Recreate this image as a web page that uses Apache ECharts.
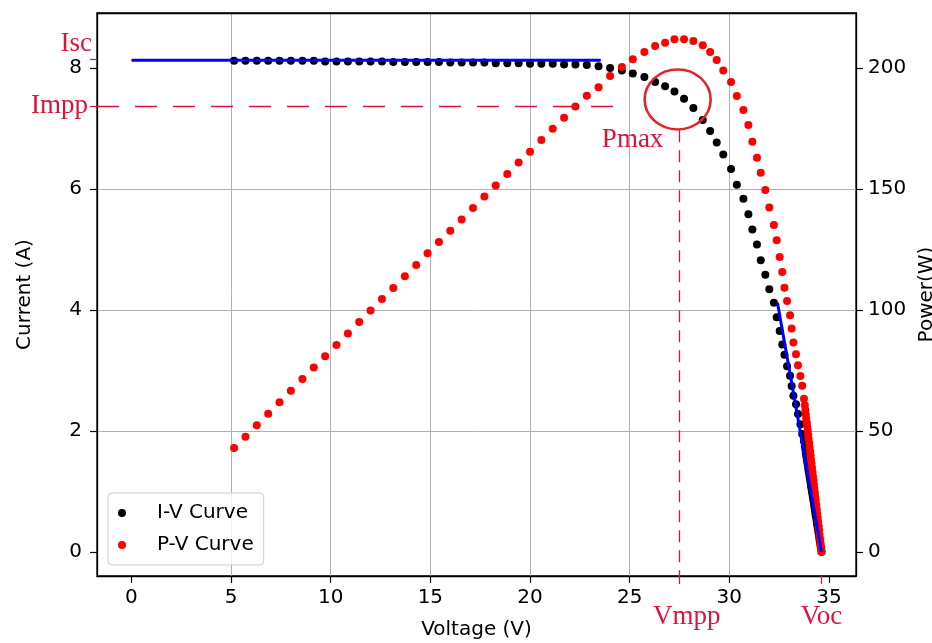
<!DOCTYPE html>
<html>
<head>
<meta charset="utf-8">
<script src="https://cdn.jsdelivr.net/npm/echarts@6/dist/echarts.min.js"></script>
<style>
  html, body { margin: 0; padding: 0; background: #fff; }
  #chart { width: 932px; height: 643px; }
</style>
</head>
<body>
<div id="chart"></div>
<script>
// measured I-V / P-V samples (shared voltage axis)
var volt = [
  5.15, 5.72, 6.29, 6.86, 7.43, 8.00, 8.58, 9.15, 9.72, 10.29,
  10.86, 11.43, 12.00, 12.57, 13.14, 13.72, 14.29, 14.86, 15.43, 16.00,
  16.57, 17.14, 17.71, 18.28, 18.86, 19.43, 20.00, 20.57, 21.14, 21.71,
  22.28, 22.85, 23.44, 24.02, 24.61, 25.16, 25.74, 26.28, 26.78, 27.25,
  27.73, 28.20, 28.67, 29.04, 29.37, 29.70, 30.09, 30.38, 30.71, 30.96,
  31.16, 31.39, 31.58, 31.81, 32.01, 32.24, 32.38, 32.53, 32.66, 32.77,
  32.90, 33.05, 33.13, 33.22, 33.35, 33.45, 33.57, 33.66,
  33.75, 33.79, 33.82, 33.84, 33.86, 33.89, 33.91, 33.94, 33.96, 33.98,
  34.01, 34.03, 34.06, 34.08, 34.10, 34.13, 34.15, 34.18, 34.20, 34.23,
  34.25, 34.27, 34.30, 34.32, 34.34, 34.37, 34.39, 34.41, 34.44, 34.46,
  34.49, 34.51, 34.53, 34.56, 34.58, 34.61, 34.63
];
var current = [
  8.12, 8.12, 8.12, 8.12, 8.12, 8.12, 8.12, 8.12, 8.11, 8.11,
  8.11, 8.11, 8.11, 8.11, 8.10, 8.10, 8.10, 8.10, 8.10, 8.09,
  8.09, 8.09, 8.09, 8.08, 8.08, 8.08, 8.07, 8.07, 8.07, 8.06,
  8.06, 8.05, 8.03, 8.00, 7.96, 7.91, 7.85, 7.77, 7.70, 7.61,
  7.49, 7.34, 7.14, 6.96, 6.77, 6.57, 6.33, 6.07, 5.84, 5.58,
  5.33, 5.08, 4.82, 4.58, 4.34, 4.12, 3.88, 3.65, 3.43, 3.26,
  3.07, 2.91, 2.74, 2.58, 2.44, 2.28, 2.11, 1.95,
  1.83, 1.75, 1.69, 1.64, 1.59, 1.54, 1.49, 1.44, 1.39, 1.34,
  1.29, 1.24, 1.19, 1.14, 1.09, 1.04, 0.99, 0.94, 0.89, 0.84,
  0.79, 0.74, 0.69, 0.64, 0.60, 0.55, 0.50, 0.45, 0.40, 0.35,
  0.30, 0.25, 0.20, 0.15, 0.10, 0.05, 0.00
];
var power = [
  42.9, 47.6, 52.3, 57.1, 61.8, 66.6, 71.4, 76.2, 80.8, 85.5,
  90.3, 95.0, 99.8, 104.5, 109.1, 113.9, 118.6, 123.4, 128.1, 132.7,
  137.4, 142.1, 146.9, 151.4, 156.2, 160.9, 165.4, 170.2, 174.9, 179.4,
  184.1, 188.5, 192.1, 196.7, 200.4, 203.6, 206.6, 209.1, 210.5, 211.9,
  211.9, 211.2, 209.4, 206.6, 203.3, 199.0, 194.2, 188.4, 182.6, 176.4,
  169.5, 162.9, 156.7, 149.6, 142.3, 135.1, 128.8, 121.9, 115.7, 109.2,
  103.7, 97.8, 92.3, 86.5, 81.7, 77.1, 72.7, 68.6,
  63.3, 60.6, 58.6, 56.9, 55.2, 53.5, 51.8, 50.1, 48.4, 46.7,
  45.0, 43.3, 41.5, 39.8, 38.1, 36.4, 34.7, 32.9, 31.2, 29.5,
  27.7, 26.0, 24.3, 22.5, 21.1, 19.4, 17.6, 15.9, 14.1, 12.4,
  10.6, 8.8, 7.1, 5.3, 3.5, 1.8, 0.0
];

// blue fitted segments
var fitFlatV = [0, 23.55];
var fitFlatI = [8.13, 8.13];
var fitTailV = [32.42, 34.63];
var fitTailI = [4.12, 0.0];

// key points
var Isc = 8.15, Impp = 7.375, Vmpp = 27.51, Voc = 34.63;

// ticks
var xTicks = [0, 5, 10, 15, 20, 25, 30, 35];
var iTicks = [0, 2, 4, 6, 8];
var pTicks = [0, 50, 100, 150, 200];

var xMin = -1.73, xMax = 36.36;
var iMin = -0.4, iMax = 8.91;
var pMin = -10, pMax = 222.75;

var FONT = 'DejaVu Sans';
var SERIF = 'Liberation Serif';
var CRIMSON = '#dc143c';

function pairs(xs, ys) {
  return xs.map(function (x, i) { return [x, ys[i]]; });
}

var chart = echarts.init(document.getElementById('chart'));

chart.setOption({
  animation: false,
  backgroundColor: '#fff',
  grid: {
    left: 97, right: 76, top: 13, bottom: 67,
    show: true, borderColor: '#000', borderWidth: 1.3,
    outerBoundsMode: 'none'
  },
  legend: {
    data: ['I-V Curve', 'P-V Curve'],
    orient: 'vertical',
    left: 108, top: 493,
    padding: [8, 10, 8, 10],
    itemGap: 8,
    itemWidth: 38, itemHeight: 8,
    icon: 'circle',
    borderColor: '#cccccc', borderWidth: 1, borderRadius: 4,
    backgroundColor: 'rgba(255,255,255,0.8)',
    textStyle: { fontFamily: FONT, fontSize: 20, color: '#000', lineHeight: 24, padding: [0, 0, 0, 11] }
  },
  xAxis: [{
    type: 'value', min: xMin, max: xMax, splitNumber: 7,
    name: 'Voltage (V)', nameLocation: 'middle', nameGap: 44,
    nameTextStyle: { fontFamily: FONT, fontSize: 20, color: '#000' },
    axisLine: { show: true, onZero: false, lineStyle: { color: '#000', width: 1.3 } },
    axisTick: { show: true, length: 7, customValues: xTicks, lineStyle: { color: '#000', width: 1.2 } },
    axisLabel: { customValues: xTicks, margin: 12, fontFamily: FONT, fontSize: 20, color: '#000' },
    splitLine: { show: true, showMinLine: false, showMaxLine: false, lineStyle: { color: '#b0b0b0', width: 1 } }
  }, {
    // Vmpp / Voc marks under the axis
    type: 'value', min: xMin, max: xMax, position: 'bottom',
    axisLine: { show: false, onZero: false },
    axisTick: { show: true, length: 8, customValues: [Vmpp, Voc], lineStyle: { color: CRIMSON, width: 1.2 } },
    axisLabel: {
      customValues: [Vmpp, Voc], margin: 27,
      fontFamily: SERIF, fontSize: 27, color: CRIMSON,
      formatter: function (v) { return v < 30 ? '{v|Vmpp}' : 'Voc'; },
      rich: { v: { fontFamily: SERIF, fontSize: 27, color: CRIMSON, padding: [0, 0, 0, 14] } }
    },
    splitLine: { show: false }
  }, {
    // top spine
    type: 'value', min: xMin, max: xMax, position: 'top',
    axisLine: { show: true, onZero: false, lineStyle: { color: '#000', width: 1.3 } },
    axisTick: { show: false }, axisLabel: { show: false }, splitLine: { show: false }
  }],
  yAxis: [{
    type: 'value', min: iMin, max: iMax, splitNumber: 5, position: 'left',
    name: 'Current (A)', nameLocation: 'middle', nameGap: 62,
    nameTextStyle: { fontFamily: FONT, fontSize: 20, color: '#000' },
    axisLine: { show: true, onZero: false, lineStyle: { color: '#000', width: 1.3 } },
    axisTick: { show: true, length: 7, customValues: iTicks, lineStyle: { color: '#000', width: 1.2 } },
    axisLabel: { customValues: iTicks, margin: 15, fontFamily: FONT, fontSize: 20, color: '#000' },
    splitLine: { show: true, showMinLine: false, showMaxLine: false, lineStyle: { color: '#b0b0b0', width: 1 } }
  }, {
    type: 'value', min: pMin, max: pMax, position: 'right',
    name: 'Power(W)', nameLocation: 'middle', nameGap: 46,
    nameTextStyle: { fontFamily: FONT, fontSize: 20, color: '#000' },
    axisLine: { show: true, onZero: false, lineStyle: { color: '#000', width: 1.3 } },
    axisTick: { show: true, length: 7, customValues: pTicks, lineStyle: { color: '#000', width: 1.2 } },
    axisLabel: { customValues: pTicks, margin: 12, fontFamily: FONT, fontSize: 20, color: '#000' },
    splitLine: { show: false }
  }, {
    // Isc / Impp marks left of the axis
    type: 'value', min: iMin, max: iMax, position: 'left',
    axisLine: { show: false, onZero: false },
    axisTick: { show: true, length: 7, customValues: [Impp, Isc], lineStyle: { color: CRIMSON, width: 1.2 } },
    axisLabel: {
      customValues: [Impp, Isc], margin: 5,
      fontFamily: SERIF, fontSize: 27, color: CRIMSON,
      formatter: function (v) { return v > 8 ? '{a|Isc}' : '{b|Impp}'; },
      rich: {
        a: { fontFamily: SERIF, fontSize: 27, color: CRIMSON, padding: [0, 0, 31, 0] },
        b: { fontFamily: SERIF, fontSize: 27, color: CRIMSON, padding: [0, 4, 0, 0] }
      }
    },
    splitLine: { show: false }
  }],
  series: [{
    name: 'I-V Curve', type: 'scatter',
    xAxisIndex: 0, yAxisIndex: 0,
    symbolSize: 8,
    itemStyle: { color: '#000', opacity: 1 },
    data: pairs(volt, current)
  }, {
    name: 'fit1', type: 'line',
    xAxisIndex: 0, yAxisIndex: 0,
    showSymbol: false,
    lineStyle: { color: '#0000ff', width: 3 },
    data: pairs(fitFlatV, fitFlatI)
  }, {
    name: 'fit2', type: 'line',
    xAxisIndex: 0, yAxisIndex: 0,
    showSymbol: false,
    lineStyle: { color: '#0000ff', width: 3 },
    data: pairs(fitTailV, fitTailI)
  }, {
    name: 'P-V Curve', type: 'scatter',
    xAxisIndex: 0, yAxisIndex: 1,
    symbolSize: 8,
    itemStyle: { color: '#ff0000', opacity: 1 },
    data: pairs(volt, power)
  }, {
    name: 'annot', type: 'scatter',
    xAxisIndex: 0, yAxisIndex: 0,
    data: [],
    silent: true,
    markLine: {
      silent: true, symbol: 'none', animation: false,
      label: { show: false },
      lineStyle: { color: CRIMSON, width: 1.3, opacity: 1 },
      emphasis: { disabled: true },
      data: [
        [{ coord: [xMin, Impp], lineStyle: { color: CRIMSON, width: 1.3, type: [22, 16] } },
         { coord: [24.85, Impp] }],
        [{ coord: [Vmpp, 6.97], lineStyle: { color: CRIMSON, width: 1.3, type: [12, 8] } },
         { coord: [Vmpp, iMin] }]
      ]
    },
    markPoint: {
      silent: true, animation: false,
      data: [{
        coord: [27.41, 7.48],
        symbol: 'circle', symbolSize: [66, 60],
        itemStyle: { color: 'transparent', borderColor: '#e0262b', borderWidth: 2.5 },
        label: { show: false }
      }, {
        coord: [25.15, 6.805],
        symbol: 'circle', symbolSize: 1,
        itemStyle: { color: 'transparent' },
        label: {
          show: true, position: 'inside', formatter: 'Pmax',
          fontFamily: SERIF, fontSize: 27, color: CRIMSON
        }
      }]
    }
  }]
});
</script>
</body>
</html>
